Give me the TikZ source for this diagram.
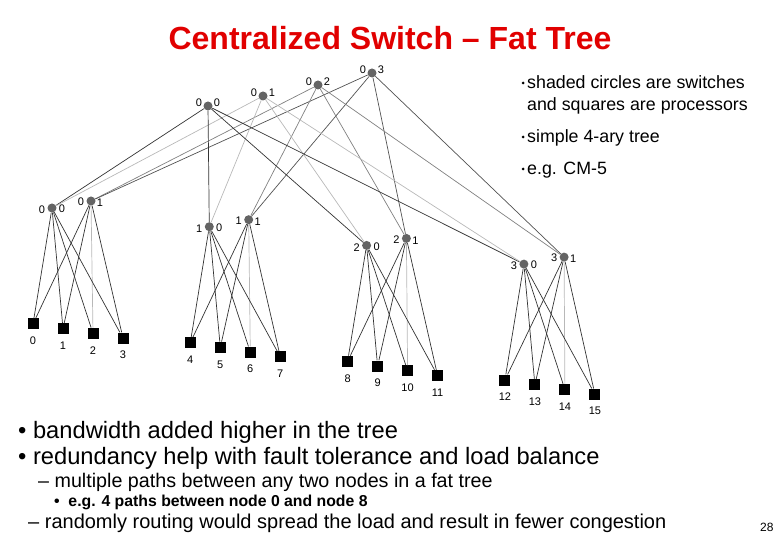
\documentclass[tikz,border=0pt]{standalone}
\usepackage{fontspec}
\setmainfont{Liberation Sans}
\usetikzlibrary{calc}

\definecolor{titlered}{RGB}{225,0,0}
\definecolor{swgray}{RGB}{100,100,100}

\begin{document}
\begin{tikzpicture}[x=1pt,y=-1pt,
  sw/.style={circle,fill=swgray,inner sep=0pt,minimum size=9pt},
  proc/.style={fill=black,inner sep=0pt,minimum size=11pt},
  lbl/.style={inner sep=0pt,font=\fontsize{11}{13}\selectfont},
  wire/.style={line width=0.7pt,black!80},
  wirelt/.style={line width=0.7pt,black!28},
  wiremd/.style={line width=0.7pt,black!50},
  wiredk/.style={line width=0.7pt,black!68},
  note/.style={anchor=base west,inner sep=0pt,font=\fontsize{17.8}{21}\selectfont},
  dot/.style={circle,fill=black,inner sep=0pt,minimum size=3pt}]
\useasboundingbox (0,0) rectangle (780,540);

% title
\node[font=\bfseries\fontsize{32}{37}\selectfont,text=titlered] (title) at (390,38) {Centralized Switch -- Fat Tree};

% top level switches
\foreach \j/\x/\y in {0/208/106,1/263/96,2/318/85,3/372/73} {
  \node[sw] (t\j) at (\x,\y) {};
  \node[lbl] at (\x-9,\y-3) {0};
  \node[lbl] at (\x+9,\y-3) {\j};
}

% second level switches
\foreach \g in {0,1,2,3} {
  \node[sw] (a\g) at ({52+157.3*\g},{208+18.7*\g}) {};
  \node[lbl] at ($(a\g)+(-10,2)$) {\g};
  \node[lbl] at ($(a\g)+(10,1)$) {0};
  \node[sw] (b\g) at ({91+157.7*\g},{201+18.7*\g}) {};
  \node[lbl] at ($(b\g)+(-10,1)$) {\g};
  \node[lbl] at ($(b\g)+(9,2)$) {1};
}

% processors
\foreach \g in {0,1,2,3} {
  \foreach \i in {0,1,2,3} {
    \pgfmathtruncatemacro\n{4*\g+\i}
    \node[proc] (p\n) at ({33+157.3*\g+30*\i},{324+18.7*\g+4.7*\i}) {};
    \node[lbl] at ($(p\n)+(0,17)$) {\n};
  }
}

% top links
\foreach \g in {0,1,2,3} {
  \draw[wire] (t0) -- (a\g);
  \draw[wirelt] (t1) -- (a\g);
  \draw[wiremd] (t2) -- (b\g);
  \draw[wiredk] (t3) -- (b\g);
}

% links to processors
\foreach \g in {0,1,2,3} {
  \foreach \i in {0,1,2,3} {
    \pgfmathtruncatemacro\n{4*\g+\i}
    \draw[wire] (a\g) -- (p\n);
    \ifnum\i=2
      \draw[wirelt] (b\g) -- (p\n);
    \else
      \draw[wire] (b\g) -- (p\n);
    \fi
  }
}

% notes on the right
\foreach \y in {83,137,169} {
  \node[dot] at (523,\y) {};
}
\node[note] (n1) at (527,89) {shaded circles are switches};
\node[note] (n2) at (527,111) {and squares are processors};
\node[note] (n3) at (527,143) {simple 4-ary tree};
\node[note] (n4) at (527,175) {e.g. CM-5};

% bullets below
\begin{scope}[every node/.style={anchor=base west,inner sep=0pt}]
  \node[font=\fontsize{23.7}{28}\selectfont] (b1) at (18,438) {• bandwidth added higher in the tree};
  \node[font=\fontsize{23.7}{28}\selectfont] (b2) at (18,464) {• redundancy help with fault tolerance and load balance};
  \node[font=\fontsize{19.7}{23}\selectfont] (b3) at (38,487) {-- multiple paths between any two nodes in a fat tree};
  \node[font=\bfseries\fontsize{15.8}{19}\selectfont] (b4) at (54,506) {•\ \ e.g. 4 paths between node 0 and node 8};
  \node[font=\fontsize{20}{24}\selectfont] (b5) at (28,528) {-- randomly routing would spread the load and result in fewer congestion};
  \node[font=\fontsize{12}{14}\selectfont] (pg) at (760,531) {28};
\end{scope}
\end{tikzpicture}
\end{document}
